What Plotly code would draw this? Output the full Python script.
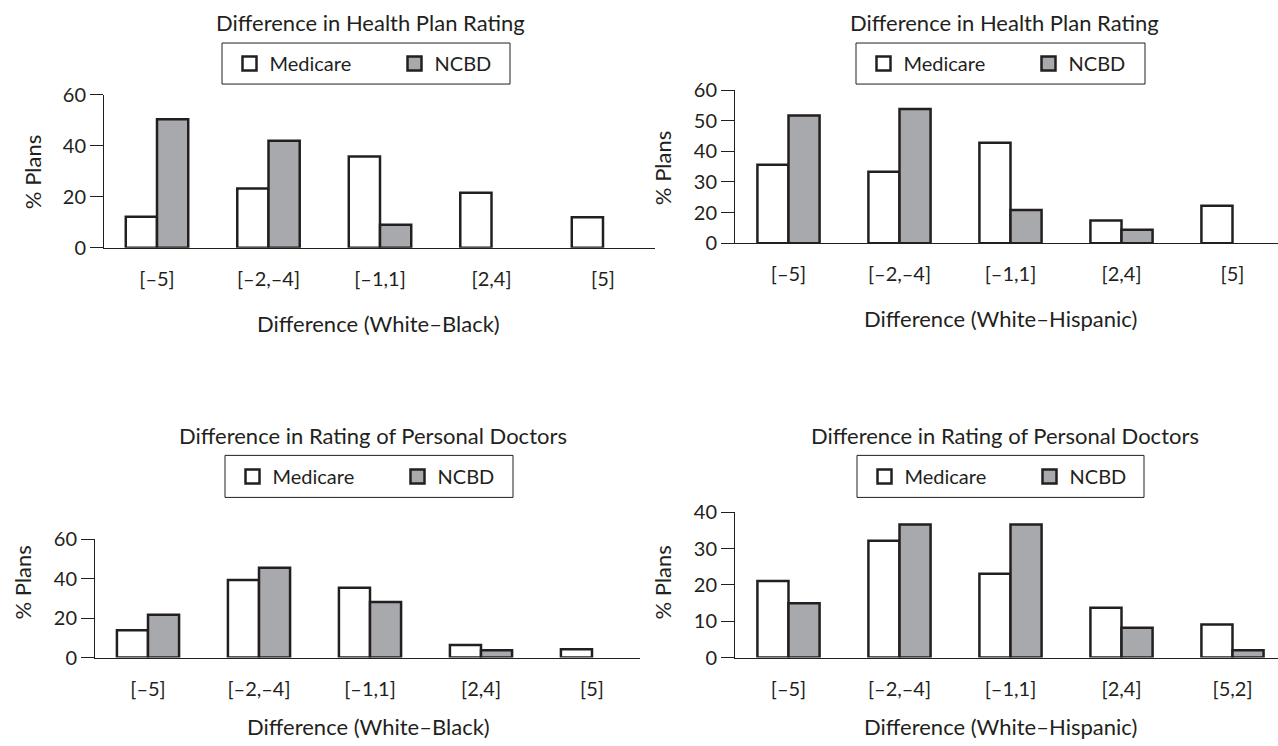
import plotly.graph_objects as go

W, H = 1278, 746

# ---------------- data ----------------
categories_main = ["[–5]", "[–2,–4]", "[–1,1]", "[2,4]", "[5]"]
categories_last = ["[–5]", "[–2,–4]", "[–1,1]", "[2,4]", "[5,2]"]

plan_black_medicare = [12.1, 23.2, 35.7, 21.5, 11.9]
plan_black_ncbd = [50.3, 41.9, 9.0, None, None]

# top-right panel: printed tick labels read 0,20,30,40,50,60 on evenly spaced ticks
plan_hisp_medicare = [25.6, 23.3, 32.8, 7.4, 12.2]
plan_hisp_ncbd = [41.7, 43.8, 10.8, 4.4, None]
plan_hisp_tickvals = [0, 10, 20, 30, 40, 50]
plan_hisp_ticktext = ["0", "20", "30", "40", "50", "60"]

doc_black_medicare = [13.9, 39.4, 35.5, 6.4, 4.2]
doc_black_ncbd = [21.8, 45.6, 28.2, 3.7, None]

doc_hisp_medicare = [21.1, 32.2, 23.1, 13.7, 9.1]
doc_hisp_ncbd = [15.0, 36.7, 36.7, 8.2, 2.0]

titles = ["Difference in Health Plan Rating", "Difference in Health Plan Rating",
          "Difference in Rating of Personal Doctors", "Difference in Rating of Personal Doctors"]
xtitles = ["Difference (White–Black)", "Difference (White–Hispanic)",
           "Difference (White–Black)", "Difference (White–Hispanic)"]
ytitle = "% Plans"
series_names = ["Medicare", "NCBD"]

# ---------------- style ----------------
INK = "#231f20"
GRAY = "#a7a9ac"
FONT = "Lato"

# vertical calibration of the captured picture (picture_y = 13 + 0.967 * page_y)
VOFF, VSCALE = 13.0, 0.967


def px(sx):
    return sx / W


def py(sy):
    page = (sy - VOFF) / VSCALE
    return 1 - page / H


fig = go.Figure()

panels = [
    dict(cats=categories_main, med=plan_black_medicare, ncbd=plan_black_ncbd, ax=""),
    dict(cats=categories_main, med=plan_hisp_medicare, ncbd=plan_hisp_ncbd, ax="2"),
    dict(cats=categories_main, med=doc_black_medicare, ncbd=doc_black_ncbd, ax="3"),
    dict(cats=categories_last, med=doc_hisp_medicare, ncbd=doc_hisp_ncbd, ax="4"),
]

fills = ["white", GRAY]
for i, p in enumerate(panels):
    lg = "legend" if i == 0 else f"legend{i+1}"
    for k, vals in enumerate([p["med"], p["ncbd"]]):
        fig.add_trace(go.Bar(
            x=p["cats"], y=vals, name=series_names[k],
            marker=dict(color=fills[k], line=dict(color=INK, width=2.5)),
            xaxis="x" + p["ax"], yaxis="y" + p["ax"], legend=lg,
            cliponaxis=False, showlegend=False, hoverinfo="skip"))
    # legend keys (square swatches like the printed key)
    for k in range(2):
        fig.add_trace(go.Scatter(
            x=[None], y=[None], mode="markers", name=series_names[k],
            marker=dict(symbol="square", size=14, color=fills[k],
                        line=dict(color=INK, width=2.5)),
            xaxis="x" + p["ax"], yaxis="y" + p["ax"], legend=lg,
            legendwidth=120 if k == 0 else None, hoverinfo="skip"))

# panel geometry in picture pixels
geo = [
    dict(xl=104, xr=655, c0=157, sp=111.5, y0=247.5, y1=94.5, yr=[0, 60],
         tv=[0, 20, 40, 60], tt=None),
    dict(xl=735, xr=1278, c0=788.5, sp=111, y0=243, y1=90, yr=[0, 50],
         tv=plan_hisp_tickvals, tt=plan_hisp_ticktext),
    dict(xl=95, xr=640, c0=148, sp=111, y0=657, y1=539, yr=[0, 60],
         tv=[0, 20, 40, 60], tt=None),
    dict(xl=735, xr=1278, c0=788.5, sp=111, y0=657, y1=512, yr=[0, 40],
         tv=[0, 10, 20, 30, 40], tt=None),
]

for i, g in enumerate(geo):
    sfx = "" if i == 0 else str(i + 1)
    r0 = -(g["c0"] - g["xl"]) / g["sp"]
    r1 = r0 + (g["xr"] - g["xl"]) / g["sp"]
    fig.layout["xaxis" + sfx] = dict(
        domain=[px(g["xl"]), min(px(g["xr"]), 1.0)], anchor="y" + sfx, type="category",
        range=[r0, r1], showline=True, linecolor=INK, linewidth=1,
        ticks="outside", ticklen=13, tickcolor="rgba(0,0,0,0)",
        tickfont=dict(family=FONT, size=20, color=INK), showgrid=False,
        zeroline=False, fixedrange=True)
    ya = dict(
        domain=[py(g["y0"]), py(g["y1"])], anchor="x" + sfx,
        range=g["yr"], tickvals=g["tv"], showline=True, linecolor=INK,
        linewidth=1, ticks="outside", ticklen=13, tickwidth=1, tickcolor=INK,
        tickfont=dict(family=FONT, size=20, color=INK), showgrid=False,
        zeroline=False, fixedrange=True)
    if g["tt"] is not None:
        ya["ticktext"] = g["tt"]
    fig.layout["yaxis" + sfx] = ya

# titles and axis titles (picture pixels)
title_pos = [(370, 22), (1004, 22), (373, 435), (1005, 435)]
xtitle_pos = [(378, 323), (1000, 318), (368, 726), (1000, 726)]
ytitle_pos = [(32, 172), (662, 168), (22, 582), (662, 582)]
ann = []
for i in range(4):
    ann.append(dict(text=titles[i], x=px(title_pos[i][0]), y=py(title_pos[i][1]),
                    xref="paper", yref="paper", showarrow=False, xanchor="center",
                    yanchor="middle", font=dict(family=FONT, size=22, color=INK)))
    ann.append(dict(text=xtitles[i], x=px(xtitle_pos[i][0]), y=py(xtitle_pos[i][1]),
                    xref="paper", yref="paper", showarrow=False, xanchor="center",
                    yanchor="middle", font=dict(family=FONT, size=22, color=INK)))
    ann.append(dict(text=ytitle, x=px(ytitle_pos[i][0]), y=py(ytitle_pos[i][1]),
                    xref="paper", yref="paper", showarrow=False, xanchor="center",
                    yanchor="middle", textangle=-90,
                    font=dict(family=FONT, size=22, color=INK)))

# legend boxes and legends (picture pixels)
boxes = [(222, 43, 510, 84), (856, 43, 1145, 84), (225, 455, 513, 497), (857, 455, 1144, 497)]
shapes = []
for i, (x0, y0, x1, y1) in enumerate(boxes):
    shapes.append(dict(type="rect", xref="paper", yref="paper",
                       x0=px(x0), x1=px(x1), y0=py(y1), y1=py(y0),
                       line=dict(color=INK, width=1), fillcolor="rgba(0,0,0,0)"))
    key = "legend" if i == 0 else f"legend{i+1}"
    fig.layout[key] = dict(
        orientation="h", x=px(x0 + 7.5), xanchor="left",
        y=py((y0 + y1) / 2), yanchor="middle",
        bgcolor="rgba(0,0,0,0)", borderwidth=0, itemsizing="trace",
        font=dict(family=FONT, size=20, color=INK), itemclick=False,
        itemdoubleclick=False)

fig.update_layout(
    width=W, height=H, margin=dict(l=0, r=0, t=0, b=0),
    paper_bgcolor="white", plot_bgcolor="white",
    barmode="group", bargap=0.44, bargroupgap=0,
    annotations=ann, shapes=shapes, showlegend=True,
    font=dict(family=FONT, color=INK),
)

fig.write_html(
    "out.html",
    config={"displayModeBar": False},
    post_script="document.body.style.margin='0';document.body.style.overflow='hidden';",
)
